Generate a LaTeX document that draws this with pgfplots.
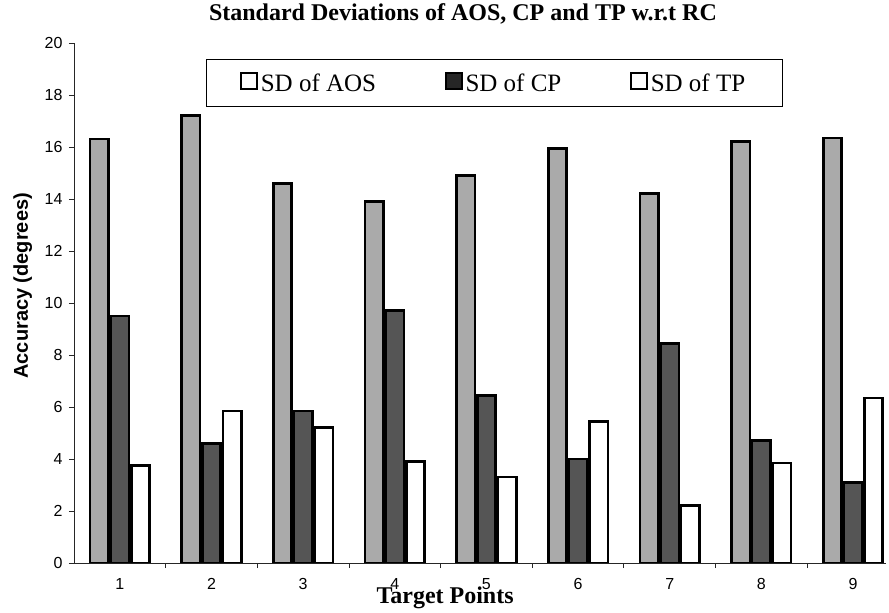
\documentclass[border=0pt]{standalone}
\usepackage{fontspec}
\setmainfont{Liberation Serif}
\setsansfont{Liberation Sans}
\usepackage{pgfplots}
\pgfplotsset{compat=1.18}
\definecolor{aosgray}{RGB}{170,170,170}
\definecolor{cpgray}{RGB}{85,85,85}
\begin{document}
\begin{tikzpicture}
\useasboundingbox (-74pt,-50pt) rectangle (815pt,563pt);
\begin{axis}[
  at={(0pt,0pt)}, anchor=south west,
  scale only axis, width=812pt, height=520pt,
  xmin=0.5, xmax=9.36, ymin=0, ymax=20,
  axis x line*=bottom, axis y line*=left,
  axis line style={-, black!85, line width=0.8pt},
  ytick={0,2,...,20},
  xtick={1,...,9},
  minor xtick={1.5,2.5,...,8.5},
  major x tick style={draw=none},
  tick align=outside,
  major tick length=5pt, minor tick length=5pt,
  tick style={black!85, line width=0.8pt},
  ticklabel style={font=\sffamily\fontsize{16}{19}\selectfont},
  /pgf/number format/assume math mode=true,
  xticklabel style={yshift=-7pt},
  yticklabel style={xshift=-3pt},
  title={\bfseries\fontsize{24}{28}\selectfont Standard Deviations of AOS, CP and TP w.r.t RC},
  title style={at={(axis description cs:0.479,1.031)}, anchor=base},
  xlabel={\bfseries\fontsize{24}{28}\selectfont Target Points},
  xlabel style={at={(axis description cs:0.457,-0.077)}, anchor=base},
  ylabel={\sffamily\bfseries\fontsize{20}{24}\selectfont Accuracy (degrees)},
  ylabel style={at={(axis description cs:-0.063,0.533)}, rotate=0, anchor=center},
  legend columns=3,
  legend style={at={(axis description cs:0.1626,0.969)}, anchor=north west,
    draw=black, line width=0.8pt, fill=white,
    font=\fontsize{25}{28}\selectfont,
    inner xsep=34pt, inner ysep=12pt,
    /tikz/every even column/.append style={column sep=66pt},
    nodes={inner xsep=3pt}},
]
\addplot[ybar, bar width=0.2, bar shift=-0.225, fill=aosgray, draw=black, line width=2.6pt,
  legend image code/.code={\draw[black,line width=1.4pt,fill=white] (0pt,-6pt) rectangle (16pt,10pt);}]
  coordinates {(1,16.3) (2,17.2) (3,14.6) (4,13.9) (5,14.9) (6,15.95) (7,14.2) (8,16.2) (9,16.35)};
\addplot[ybar, bar width=0.2, bar shift=0, fill=cpgray, draw=black, line width=2.6pt,
  legend image code/.code={\draw[black,line width=1.4pt,fill=black!85] (0pt,-6pt) rectangle (16pt,10pt);}]
  coordinates {(1,9.5) (2,4.6) (3,5.85) (4,9.7) (5,6.45) (6,4.0) (7,8.45) (8,4.7) (9,3.1)};
\addplot[ybar, bar width=0.2, bar shift=0.225, fill=white, draw=black, line width=2.6pt,
  legend image code/.code={\draw[black,line width=1.4pt,fill=white] (0pt,-6pt) rectangle (16pt,10pt);}]
  coordinates {(1,3.75) (2,5.85) (3,5.2) (4,3.9) (5,3.3) (6,5.45) (7,2.2) (8,3.85) (9,6.35)};
\legend{SD of AOS, SD of CP, SD of TP}
\end{axis}
\end{tikzpicture}
\end{document}
